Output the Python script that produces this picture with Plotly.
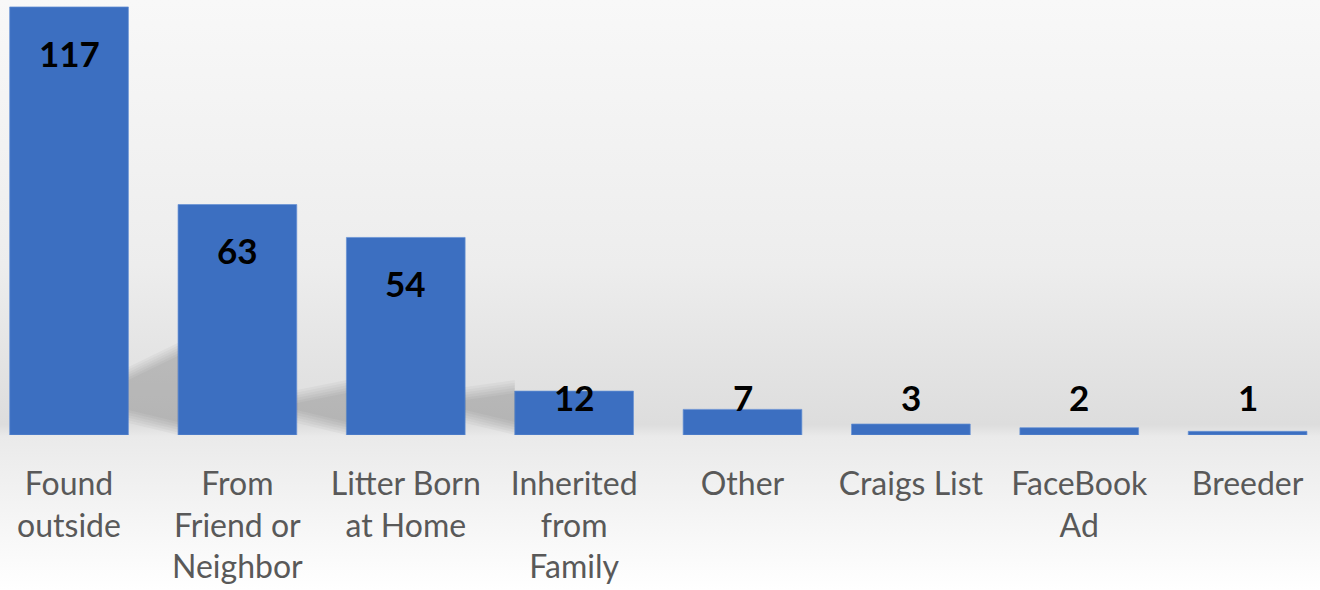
import plotly.graph_objects as go

categories = ["Found<br>outside", "From<br>Friend or<br>Neighbor", "Litter Born<br>at Home",
              "Inherited<br>from<br>Family", "Other", "Craigs List", "FaceBook<br>Ad", "Breeder"]
values = [117, 63, 54, 12, 7, 3, 2, 1]

# soft back-wall shadows in the gaps right of the tall bars (value units):
# (top at left gap edge, top at right gap edge)
shadow_tops = [(18.6, 25.2), (12.3, 15.0), (13.1, 15.0)]

bar_color = "#3c6fc1"
bar_w = 0.705
x_idx = list(range(len(categories)))
y_max = 118.9
px_per_y = 435 / y_max

fig = go.Figure()

# blurred shadow approximated by stacked translucent bands
layers = 6
for i, (t_l, t_r) in enumerate(shadow_tops):
    xl = i + bar_w / 2
    xr = i + 1 - bar_w / 2
    for k in range(layers):
        ins = k * 2.6 / px_per_y
        b_l = 3.3 + ins
        b_r = 0.0 + ins
        fig.add_trace(go.Scatter(
            x=[xl, xr, xr, xl, xl],
            y=[t_l - ins, t_r - ins, b_r, b_l, t_l - ins],
            mode="lines", line=dict(width=0), fill="toself",
            fillcolor="rgba(0,0,0,0.03)", hoverinfo="skip",
        ))

fig.add_trace(go.Bar(
    x=x_idx, y=values, width=bar_w,
    marker=dict(color=bar_color, line=dict(color="#6590d4", width=0.7)),
    hoverinfo="skip",
))

label_off = 12.5
label_min = 10.4
for i, v in enumerate(values):
    fig.add_annotation(x=i, y=max(v - label_off, label_min), text=str(v), showarrow=False,
                       font=dict(family="Lato, 'Open Sans', sans-serif", size=35, color="black", weight="bold"),
                       yanchor="middle", xanchor="center")

bg_svg = ("data:image/svg+xml;utf8,"
          "<svg xmlns='http://www.w3.org/2000/svg' width='10' height='100' preserveAspectRatio='none'>"
          "<defs><linearGradient id='g' x1='0' y1='0' x2='0' y2='1'>"
          "<stop offset='0' stop-color='%23f8f8f8'/>"
          "<stop offset='0.45' stop-color='%23ededed'/>"
          "<stop offset='0.72' stop-color='%23dddddd'/>"
          "<stop offset='0.74' stop-color='%23eaeaea'/>"
          "<stop offset='1' stop-color='%23ffffff'/>"
          "</linearGradient></defs><rect width='10' height='100' fill='url(%23g)'/></svg>")

fig.add_layout_image(dict(source=bg_svg, xref="paper", yref="paper", x=0, y=1,
                          sizex=1, sizey=590 / 435, xanchor="left", yanchor="top",
                          sizing="stretch", layer="below"))

fig.update_layout(
    width=1320, height=590,
    margin=dict(l=0, r=0, t=0, b=155),
    paper_bgcolor="white", plot_bgcolor="rgba(0,0,0,0)",
    showlegend=False,
    xaxis=dict(range=[-0.41, 7.43], tickmode="array", tickvals=x_idx, ticktext=categories,
               showgrid=False, zeroline=False, showline=False, ticks="", fixedrange=True,
               tickfont=dict(family="Lato, 'Open Sans', sans-serif", size=32, color="#595959"),
               ticklabelstandoff=27, tickangle=0),
    yaxis=dict(range=[0, y_max], visible=False, fixedrange=True),
)

fig.write_html("out.html", config={"displayModeBar": False},
               post_script="document.body.style.margin='0px';")
